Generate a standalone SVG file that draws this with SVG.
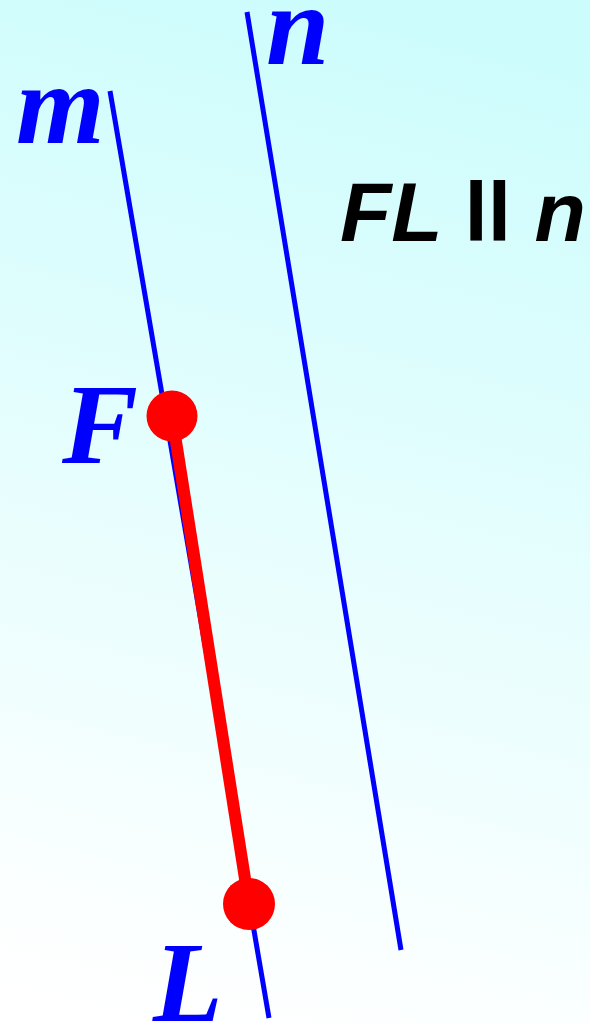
<svg xmlns="http://www.w3.org/2000/svg" width="590" height="1024" viewBox="0 0 590 1024">
<defs>
<linearGradient id="bg" gradientUnits="userSpaceOnUse" x1="420" y1="0" x2="170" y2="1024">
<stop offset="0" stop-color="#ccfcfc"/>
<stop offset="1" stop-color="#ffffff"/>
</linearGradient>
<style>
.line{stroke:#0000ff;stroke-width:5;fill:none}
.lbl{font-family:"Liberation Serif",serif;font-weight:bold;font-style:italic;font-size:114px;fill:#0000ff}
.pt{fill:#ff0000}
</style>
</defs>
<rect width="590" height="1024" fill="url(#bg)"/>
<g id="connectors">
<line class="line" x1="110" y1="91" x2="269" y2="1018"/>
<line class="line" x1="247" y1="12" x2="401" y2="950"/>
<line x1="172" y1="416" x2="249" y2="904" stroke="#ff0000" stroke-width="12"/>
</g>
<g id="line-m"><text class="lbl" x="16" y="143">m</text></g>
<g id="line-n"><text class="lbl" x="266" y="64">n</text></g>
<g id="point-F"><circle class="pt" cx="172" cy="416" r="25.5"/><text class="lbl" x="62" y="463">F</text></g>
<g id="point-L"><circle class="pt" cx="249" cy="904" r="26"/><text class="lbl" x="153" y="1021">L</text></g>
<g id="statement"><text x="340" y="241" font-family="'Liberation Sans',Arial,sans-serif" font-weight="bold" font-style="italic" font-size="84" fill="#000">FL <tspan font-style="normal">ll</tspan> n</text></g>
</svg>
